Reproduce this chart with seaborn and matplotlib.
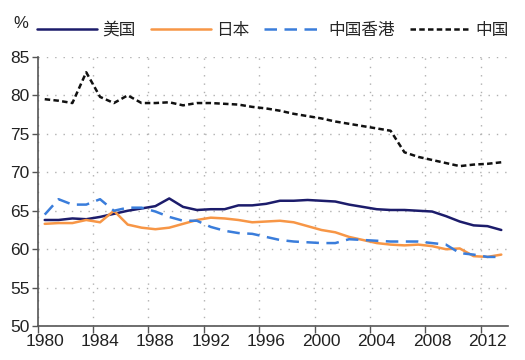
import numpy as np
import pandas as pd
import matplotlib
matplotlib.use("Agg")
import matplotlib.pyplot as plt
import seaborn as sns

years = list(range(1980, 2014))

usa = [63.8, 63.8, 64.0, 63.9, 64.2, 64.6, 65.0, 65.3, 65.6, 66.6,
       65.5, 65.1, 65.2, 65.2, 65.7, 65.7, 65.9, 66.3, 66.3, 66.4,
       66.3, 66.2, 65.8, 65.5, 65.2, 65.1, 65.1, 65.0, 64.9, 64.3,
       63.6, 63.1, 63.0, 62.5]

japan = [63.3, 63.4, 63.4, 63.8, 63.5, 65.0, 63.2, 62.8, 62.6, 62.8,
         63.3, 63.8, 64.1, 64.0, 63.8, 63.5, 63.6, 63.7, 63.5, 63.0,
         62.5, 62.2, 61.6, 61.2, 60.8, 60.6, 60.5, 60.6, 60.4, 60.0,
         60.1, 59.1, 59.0, 59.3]

hongkong = [64.5, 66.5, 65.8, 65.8, 66.5, 65.0, 65.4, 65.4, 64.9, 64.2,
            63.7, 63.7, 62.9, 62.4, 62.1, 62.0, 61.6, 61.2, 61.0, 60.9,
            60.8, 60.8, 61.3, 61.2, 61.1, 61.0, 61.0, 61.0, 60.8, 60.6,
            59.5, 59.3, 59.0, 59.0]

china = [79.5, 79.3, 79.0, 83.0, 79.8, 79.0, 80.0, 79.0, 79.0, 79.1,
         78.7, 79.0, 79.0, 78.9, 78.8, 78.5, 78.3, 78.0, 77.6, 77.3,
         77.0, 76.6, 76.3, 76.0, 75.7, 75.4, 72.6, 72.0, 71.6, 71.2,
         70.8, 71.0, 71.1, 71.3]

series_names = ["美国", "日本", "中国香港", "中国"]
yticks = [50, 55, 60, 65, 70, 75, 80, 85]

sns.set_theme(style="white")
plt.rcParams["font.family"] = ["Liberation Sans", "Noto Sans CJK SC", "DejaVu Sans"]

df = pd.DataFrame({"year": years, "美国": usa, "日本": japan,
                   "中国香港": hongkong, "中国": china})

fig = plt.figure(figsize=(5.25, 3.6), dpi=100)
ax = fig.add_axes([0.072, 0.094, 0.896, 0.748])

styles = {
    "美国": dict(color="#1c1c6b", linestyle="-", linewidth=1.8),
    "日本": dict(color="#f79646", linestyle="-", linewidth=1.8),
    "中国香港": dict(color="#3a7ddb", linestyle=(0, (5, 3)), linewidth=1.8),
    "中国": dict(color="#111111", linestyle=(0, (2.2, 1.3)), linewidth=1.8),
}
for name in series_names:
    sns.lineplot(data=df, x="year", y=name, ax=ax, label=name, **styles[name])

ax.set_xlim(1979.5, 2013.5)
ax.set_ylim(50, 85)
ax.set_yticks(yticks)
ax.set_yticklabels([str(v) for v in yticks], fontsize=12.5, color="#222222")
ax.set_xticks(years[::4])
ax.set_xticklabels([str(y) for y in years[::4]], fontsize=12.5, color="#222222")
ax.set_xticks(np.arange(1979.5, 2014, 4), minor=True)
ax.tick_params(axis="x", which="major", length=0, pad=6)
ax.tick_params(axis="x", which="minor", length=5, width=1, color="#555555", direction="out", bottom=True)
ax.tick_params(axis="y", length=4, width=1, color="#555555", direction="out", left=True, pad=2)

ax.grid(False)
ax.yaxis.grid(True, linestyle=(0, (1, 5)), color="#b0b0b0", linewidth=1.0)
ax.xaxis.grid(True, which="minor", linestyle=(0, (1, 5)), color="#b0b0b0", linewidth=1.0)
ax.set_axisbelow(True)

ax.set_xlabel("")
ax.set_ylabel("")
sns.despine(ax=ax)
for s in ["left", "bottom"]:
    ax.spines[s].set_color("#555555")
    ax.spines[s].set_linewidth(1.2)

fig.text(0.025, 0.935, "%", fontsize=12, color="#222222", va="center")
ax.legend(loc="center", bbox_to_anchor=(0.5, 1.1), ncol=4, frameon=False,
          fontsize=12, handlelength=3.6, handletextpad=0.3, columnspacing=0.9)

fig.savefig("out.png", dpi=100)
